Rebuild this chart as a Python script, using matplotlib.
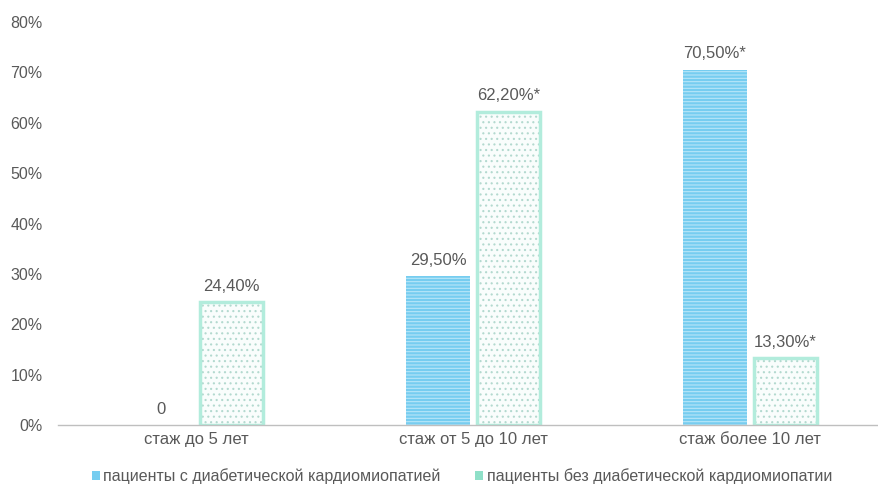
import matplotlib.pyplot as plt
import matplotlib.patches as mpatches
import numpy as np

categories = ['стаж до 5 лет', 'стаж от 5 до 10 лет', 'стаж более 10 лет']
with_dcm = [0.0, 29.5, 70.5]
without_dcm = [24.4, 62.2, 13.3]
with_labels = ['0', '29,50%', '70,50%*']
without_labels = ['24,40%', '62,20%*', '13,30%*']
series_names = ['пациенты с диабетической кардиомиопатией',
                'пациенты без диабетической кардиомиопатии']

plt.rcParams['font.family'] = ['Liberation Sans', 'DejaVu Sans']
plt.rcParams['hatch.linewidth'] = 0.8
txt = '#595959'

fig = plt.figure(figsize=(8.79, 4.88), dpi=100)
ax = fig.add_axes([0.066, 0.129, 0.945, 0.826])

x = np.arange(len(categories))
w = 0.23
off = 0.127

ax.bar(x - off, with_dcm, w, facecolor='#76cdf0', edgecolor='#b8e6f8',
       hatch='-----', linewidth=0)
ax.bar(x + off, without_dcm, w, facecolor='#f9fdfc', edgecolor='#b3d9cf',
       hatch='...', linewidth=0)
# light green frame drawn separately from the dots
ax.bar(x + off, without_dcm, w, facecolor='none', edgecolor='#b2ecdc',
       linewidth=2.5)

for xi, v, s in zip(x - off, with_dcm, with_labels):
    ax.annotate(s, (xi, v), xytext=(0, 6), textcoords='offset points',
                ha='center', va='bottom', fontsize=12, color=txt)
for xi, v, s in zip(x + off, without_dcm, without_labels):
    ax.annotate(s, (xi, v), xytext=(0, 6), textcoords='offset points',
                ha='center', va='bottom', fontsize=12, color=txt)

ax.set_xlim(-0.5, 2.5)
ax.set_ylim(0, 80)
ax.set_yticks(range(0, 81, 10))
ax.set_yticklabels(['%d%%' % t for t in range(0, 81, 10)])
ax.set_xticks(x)
ax.set_xticklabels(categories)
ax.tick_params(axis='both', length=0, labelcolor=txt)
ax.tick_params(axis='y', pad=11, labelsize=11.5)
ax.tick_params(axis='x', pad=5, labelsize=12)
for sp in ['top', 'right', 'left']:
    ax.spines[sp].set_visible(False)
ax.spines['bottom'].set_color('#bfbfbf')
ax.spines['bottom'].set_linewidth(1)

handles = [mpatches.Patch(facecolor='#76cdf0', edgecolor='none'),
           mpatches.Patch(facecolor='#8fe0c8', edgecolor='none')]
fig.legend(handles, series_names, loc='lower left', bbox_to_anchor=(0.088, -0.022),
           ncol=2, frameon=False, fontsize=11.5, handlelength=0.5, handleheight=0.5,
           handletextpad=0.2, columnspacing=2.2, labelcolor=txt)

fig.savefig('out.png', dpi=100)
